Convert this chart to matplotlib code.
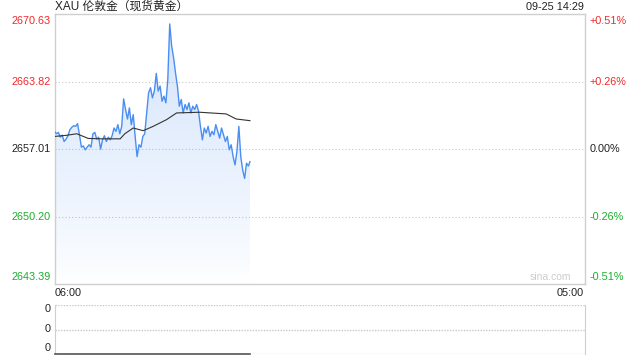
import numpy as np
import matplotlib
matplotlib.use("Agg")
import matplotlib.pyplot as plt
from matplotlib.patches import PathPatch
from matplotlib.path import Path
from matplotlib.transforms import offset_copy

plt.rcParams['font.family'] = ['Liberation Sans', 'Noto Sans CJK SC', 'DejaVu Sans']

title = "XAU 伦敦金（现货黄金）"
stamp = "09-25 14:29"
prev_close = 2657.01
y_ticks = [2670.63, 2663.82, 2657.01, 2650.20, 2643.39]
pct_labels = ["+0.51%", "+0.26%", "0.00%", "-0.26%", "-0.51%"]
x_labels = ["06:00", "05:00"]
session_minutes = 1380  # 06:00 -> 05:00 next day

# minutes since 06:00
minutes = list(range(0, 510, 5)) + [509]
price = [
    2658.80, 2658.56, 2658.70, 2658.22, 2658.43, 2657.78, 2658.02, 2658.36, 2658.97, 2659.21,
    2659.37, 2659.31, 2659.58, 2658.46, 2657.21, 2657.34, 2656.94, 2657.21, 2657.45, 2657.21,
    2658.56, 2658.70, 2658.02, 2658.22, 2657.01, 2657.95, 2658.36, 2657.78, 2658.22, 2657.95,
    2658.36, 2659.14, 2658.80, 2659.48, 2658.56, 2659.31, 2662.08, 2661.00, 2660.05, 2661.17,
    2659.48, 2660.49, 2658.29, 2656.26, 2657.45, 2657.21, 2658.29, 2658.56, 2660.66, 2662.69,
    2663.20, 2662.18, 2662.86, 2664.65, 2662.86, 2663.37, 2661.84, 2662.35, 2661.68, 2664.04,
    2669.63, 2667.43, 2666.24, 2664.72, 2663.37, 2661.34, 2662.01, 2660.66, 2661.51, 2661.00,
    2661.68, 2660.66, 2661.34, 2661.00, 2661.51, 2660.83, 2659.31, 2657.95, 2659.14, 2658.63,
    2659.31, 2658.29, 2658.80, 2658.46, 2659.48, 2658.80, 2658.12, 2659.14, 2658.46, 2657.78,
    2658.29, 2656.94, 2657.45, 2656.26, 2655.42, 2656.77, 2659.31, 2656.26, 2654.91, 2654.06,
    2655.59, 2655.31, 2655.75,
]

avg_minutes = [0, 30, 58, 88, 119, 171, 183, 205, 231, 257, 292, 318, 378, 447, 473, 509]
avg_price = [2658.29, 2658.40, 2658.56, 2658.09, 2658.05, 2658.05, 2658.56, 2659.14, 2658.87,
             2659.31, 2659.99, 2660.66, 2660.73, 2660.56, 2660.05, 2659.88]

volume_ticks = ["0", "0", "0"]

RED = "#f0292b"
GREEN = "#1aae2a"
BLACK = "#222222"
LINE = "#4a8ef2"
GRID = "#c8c8c8"

fig = plt.figure(figsize=(6.4, 3.6), dpi=100)
W, H = 640, 360

def ax_rect(l, t, r, b):
    return [l / W, 1 - b / H, (r - l) / W, (b - t) / H]

ax = fig.add_axes(ax_rect(54.5, 14, 584.5, 284.3))
ymin, ymax = y_ticks[-1], y_ticks[0]
ax.set_xlim(0, session_minutes)
ax.set_ylim(ymin, ymax)

# gradient fill under price
x = np.array(minutes, dtype=float)
y = np.array(price)
verts = np.vstack([np.column_stack([x, y]),
                   [[x[-1], ymin], [x[0], ymin], [x[0], y[0]]]])
codes = [Path.MOVETO] + [Path.LINETO] * (len(verts) - 2) + [Path.CLOSEPOLY]
clip = PathPatch(Path(verts, codes), facecolor='none', edgecolor='none', transform=ax.transData)
ax.add_patch(clip)
grad = np.linspace(0.0, 1.0, 256)
rgba = np.zeros((256, 1, 4))
rgba[..., 0] = 74 / 255
rgba[..., 1] = 142 / 255
rgba[..., 2] = 242 / 255
rgba[:, 0, 3] = 0.24 * grad ** 0.8
im = ax.imshow(rgba, extent=[0, session_minutes, ymin, ymax], origin='lower',
               aspect='auto', zorder=1, interpolation='bilinear')
im.set_clip_path(clip)

ax.plot(minutes, price, color=LINE, lw=1.0, zorder=3)
ax.plot(avg_minutes, avg_price, color="#333333", lw=0.8, zorder=4)

for v in y_ticks[1:-1]:
    ax.axhline(v, color=GRID, lw=0.8, ls=(0, (1, 2)), zorder=0)

for s in ax.spines.values():
    s.set_color("#cfcfcf")
    s.set_linewidth(1.0)
ax.set_xticks([])
ax.set_yticks([])

cols = [RED, RED, BLACK, GREEN, GREEN]
for i, (v, p, c) in enumerate(zip(y_ticks, pct_labels, cols)):
    va = 'center'
    off = 0
    if i == 0:
        va, off = 'top', -2
    elif i == len(y_ticks) - 1:
        va, off = 'bottom', 2
    tl = offset_copy(ax.get_yaxis_transform(), fig=fig, x=-3.5, y=off, units='dots')
    tr = offset_copy(ax.get_yaxis_transform(), fig=fig, x=5, y=off, units='dots')
    ax.text(0, v, f"{v:.2f}", transform=tl, ha='right', va=va, color=c, fontsize=7.8)
    ax.text(1, v, p, transform=tr, ha='left', va=va, color=c, fontsize=7.8)

fig.text(55 / W, 1 - 7 / H, title, ha='left', va='center', fontsize=8.5, color=BLACK)
fig.text(584 / W, 1 - 7.5 / H, stamp, ha='right', va='center', fontsize=7.8, color=BLACK)
fig.text(55 / W, 1 - 293.5 / H, x_labels[0], ha='left', va='center', fontsize=7.8, color=BLACK)
fig.text(584 / W, 1 - 293.5 / H, x_labels[1], ha='right', va='center', fontsize=7.8, color=BLACK)
ax.text(0.975, 0.008, "sina.com", transform=ax.transAxes, ha='right', va='bottom',
        fontsize=7.5, color="#cccccc")

# volume panel
vx = fig.add_axes(ax_rect(54.5, 305, 584.5, 354.3))
vx.set_xlim(0, session_minutes)
vx.set_ylim(0, 2)
for s in ['top', 'bottom']:
    vx.spines[s].set_visible(False)
vx.spines['left'].set_color("#cfcfcf")
vx.spines['right'].set_color("#cfcfcf")
for v in [0, 1, 2]:
    vx.axhline(v, color=GRID, lw=1.0, ls=(0, (1, 1)), zorder=0)
vol = [0.0 for _ in minutes]
vx.plot(minutes, vol, color="#555555", lw=1.2, zorder=3, clip_on=False)
vx.set_xticks([])
vx.set_yticks([])
for ypix, lab in zip([309, 329, 348], volume_ticks):
    fig.text(51 / W, 1 - ypix / H, lab, ha='right', va='center', fontsize=7.8, color=BLACK)

fig.savefig("out.png", dpi=100)
